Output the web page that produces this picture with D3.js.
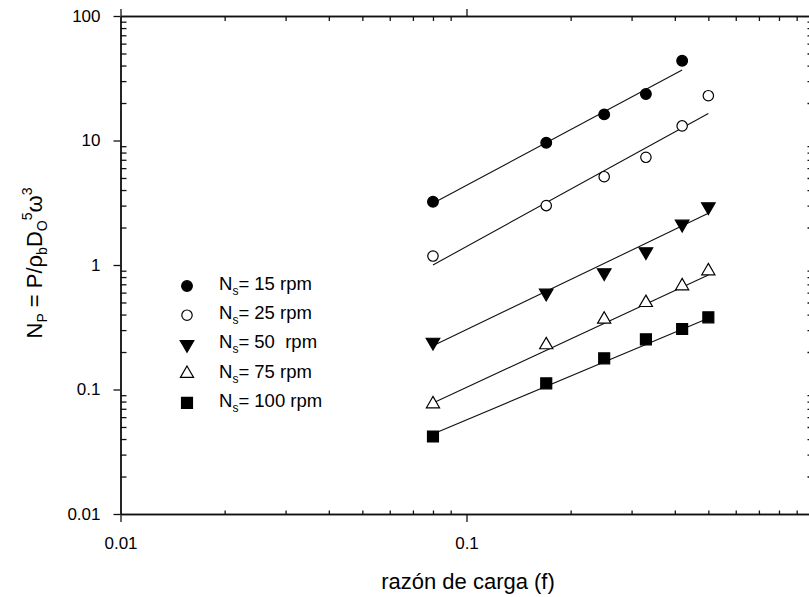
<!DOCTYPE html>
<html>
<head>
<meta charset="utf-8">
<script src="https://cdn.jsdelivr.net/npm/d3@7"></script>
<style>
  html, body { margin: 0; padding: 0; background: #fff; }
  svg { display: block; font-family: Arial, "Liberation Sans", sans-serif; }
  text { fill: #000; white-space: pre; }
</style>
</head>
<body>
<div id="chart"></div>
<script>
// razón de carga (f)
const cargaF = [0.08, 0.17, 0.25, 0.33, 0.42, 0.5];

// N_P per stirring speed
const np15 = [3.22, 9.6, 16.2, 23.6, 43.7];
const np25 = [1.18, 3.0, 5.12, 7.33, 13.1, 22.9];
const np50 = [0.24, 0.595, 0.867, 1.28, 2.13, 2.94];
const np75 = [0.0765, 0.228, 0.366, 0.498, 0.678, 0.895];
const np100 = [0.0419, 0.112, 0.178, 0.253, 0.306, 0.38];

// fitted lines, [f start, Np start, f end, Np end]
const fit15 = [0.08, 3.13, 0.42, 36.8];
const fit25 = [0.08, 1.0, 0.5, 16.5];
const fit50 = [0.08, 0.225, 0.5, 2.6];
const fit75 = [0.08, 0.078, 0.5, 0.83];
const fit100 = [0.08, 0.044, 0.5, 0.373];

const legendLabels = ['= 15 rpm', '= 25 rpm', '= 50  rpm', '= 75 rpm', '= 100 rpm'];
const xTicks = [0.01, 0.1, 1];
const xTickLabels = ['0.01', '0.1', ''];   // the 1 sits past the window edge
const yTicks = [0.01, 0.1, 1, 10, 100];
const yTickLabels = ['0.01', '0.1', '1', '10', '100'];

const W = 809, H = 597;
const svg = d3.select('#chart').append('svg').attr('width', W).attr('height', H);

const x = d3.scaleLog().domain([0.01, 1]).range([120.5, 812.5]);
const y = d3.scaleLog().domain([0.01, 100]).range([514, 16]);

// minor ticks 2..9 inside each decade
function minorTicks(major) {
  let out = [];
  for (let i = 0; i < major.length - 1; i++)
    for (let k = 2; k <= 9; k++) out.push(major[i] * k);
  return out;
}

function styleAxis(g) {
  g.selectAll('path.domain').attr('stroke', '#111').attr('stroke-width', 1.4);
  g.selectAll('line').attr('stroke', '#111').attr('stroke-width', 1.3);
  g.selectAll('text').attr('font-size', '17px').attr('fill', '#000')
    .attr('font-family', 'Arial, "Liberation Sans", sans-serif');
}

// bottom
svg.append('g').attr('transform', `translate(0,514)`)
  .call(d3.axisBottom(x).tickValues(xTicks).tickFormat((d, i) => xTickLabels[i]).tickSize(8).tickSizeOuter(0).tickPadding(15))
  .call(styleAxis);
svg.append('g').attr('transform', `translate(0,514)`)
  .call(d3.axisBottom(x).tickValues(minorTicks(xTicks)).tickFormat('').tickSize(-3.5).tickSizeOuter(0))
  .call(styleAxis);
// top
svg.append('g').attr('transform', `translate(0,16)`)
  .call(d3.axisTop(x).tickValues(xTicks).tickFormat('').tickSize(7).tickSizeOuter(0))
  .call(styleAxis);
svg.append('g').attr('transform', `translate(0,16)`)
  .call(d3.axisTop(x).tickValues(minorTicks(xTicks)).tickFormat('').tickSize(-5).tickSizeOuter(0))
  .call(styleAxis);
// left
svg.append('g').attr('transform', `translate(120.5,0)`)
  .call(d3.axisLeft(y).tickValues(yTicks).tickFormat((d, i) => yTickLabels[i]).tickSize(7).tickSizeOuter(0).tickPadding(13))
  .call(styleAxis);
svg.append('g').attr('transform', `translate(120.5,0)`)
  .call(d3.axisLeft(y).tickValues(minorTicks(yTicks)).tickFormat('').tickSize(-6).tickSizeOuter(0))
  .call(styleAxis);
// right (line sits just past the window edge)
svg.append('g').attr('transform', `translate(812.5,0)`)
  .call(d3.axisRight(y).tickValues(yTicks).tickFormat('').tickSize(7).tickSizeOuter(0))
  .call(styleAxis);
svg.append('g').attr('transform', `translate(812.5,0)`)
  .call(d3.axisRight(y).tickValues(minorTicks(yTicks)).tickFormat('').tickSize(-5).tickSizeOuter(0))
  .call(styleAxis);

// series setup
const series = [
  { vals: np15, fit: fit15, shape: d3.symbolCircle, size: 90, fill: '#000', rot: 0 },
  { vals: np25, fit: fit25, shape: d3.symbolCircle, size: 85, fill: '#fff', rot: 0 },
  { vals: np50, fit: fit50, shape: d3.symbolTriangle, size: 80, fill: '#000', rot: 180 },
  { vals: np75, fit: fit75, shape: d3.symbolTriangle, size: 75, fill: '#fff', rot: 0 },
  { vals: np100, fit: fit100, shape: d3.symbolSquare, size: 120, fill: '#000', rot: 0 }
];

const line = d3.line().x(d => x(d[0])).y(d => y(d[1]));

series.forEach(s => {
  svg.append('path')
    .datum([[s.fit[0], s.fit[1]], [s.fit[2], s.fit[3]]])
    .attr('d', line)
    .attr('fill', 'none')
    .attr('stroke', '#111')
    .attr('stroke-width', 1.1);
});

series.forEach(s => {
  const pts = s.vals.map((v, i) => ({ f: cargaF[i], v }));
  svg.append('g').selectAll('path')
    .data(pts)
    .enter()
    .append('path')
    .attr('d', d3.symbol().type(s.shape).size(s.size))
    .attr('transform', d => `translate(${x(d.f)},${y(d.v)}) rotate(${s.rot})`)
    .attr('fill', s.fill)
    .attr('stroke', '#000')
    .attr('stroke-width', 1.2);
});

// legend
const legend = svg.append('g');
series.forEach((s, i) => {
  const by = 290 + i * 29.2;
  legend.append('path')
    .attr('d', d3.symbol().type(s.shape).size(s.size))
    .attr('transform', `translate(187,${by - 4}) rotate(${s.rot})`)
    .attr('fill', s.fill)
    .attr('stroke', '#000')
    .attr('stroke-width', 1.2);
  const t = legend.append('text').attr('x', 219).attr('y', by).attr('font-size', '18.5px');
  t.append('tspan').text('N');
  t.append('tspan').attr('font-size', '12px').attr('dy', 5).text('s');
  t.append('tspan').attr('dy', -5).text(legendLabels[i]);
});

// axis titles
svg.append('text')
  .attr('x', 468).attr('y', 589)
  .attr('text-anchor', 'middle')
  .attr('font-size', '22px')
  .text('razón de carga (f)');

const yt = svg.append('text')
  .attr('transform', 'translate(42,263) rotate(-90)')
  .attr('text-anchor', 'middle')
  .attr('font-size', '22px');
yt.append('tspan').text('N');
yt.append('tspan').attr('font-size', '14px').attr('dy', 5).text('P');
yt.append('tspan').attr('dy', -5).text(' = P/ρ');
yt.append('tspan').attr('font-size', '14px').attr('dy', 5).text('b');
yt.append('tspan').attr('dy', -5).text('D');
yt.append('tspan').attr('font-size', '14px').attr('dy', 5).text('O');
yt.append('tspan').attr('font-size', '14px').attr('dy', -15).text('5');
yt.append('tspan').attr('dy', 10).text('ω');
yt.append('tspan').attr('font-size', '14px').attr('dy', -10).text('3');
</script>
</body>
</html>
